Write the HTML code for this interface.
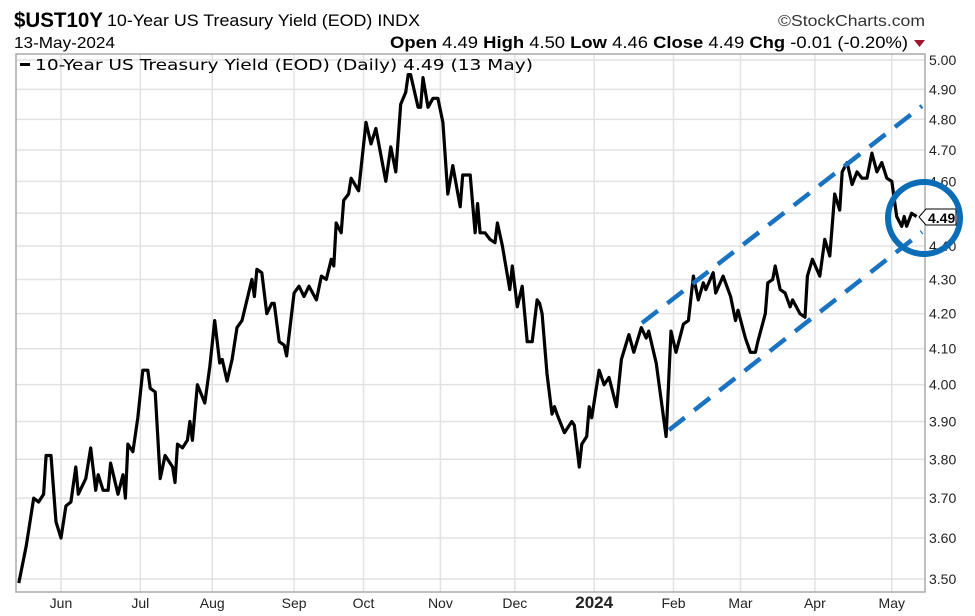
<!DOCTYPE html>
<html><head><meta charset="utf-8">
<style>
html,body{margin:0;padding:0;background:#fff;}
svg{display:block;}
text{font-family:"Liberation Sans Narrow","Liberation Sans",sans-serif;}
</style></head>
<body>
<svg id="chart" width="975" height="616" viewBox="0 0 975 616">
  <text x="14" y="27" font-size="21" font-weight="bold" textLength="89" lengthAdjust="spacingAndGlyphs">$UST10Y</text>
  <text x="107" y="26" font-size="17" textLength="313" lengthAdjust="spacingAndGlyphs">10-Year US Treasury Yield (EOD)  INDX</text>
  <text x="778" y="26" font-size="16" textLength="147" lengthAdjust="spacingAndGlyphs" fill="#333">©StockCharts.com</text>
  <text x="14" y="48" font-size="16" textLength="101" lengthAdjust="spacingAndGlyphs">13-May-2024</text>
  <text x="390" y="48" font-size="17" textLength="518" lengthAdjust="spacingAndGlyphs"><tspan font-weight="bold">Open</tspan> 4.49  <tspan font-weight="bold">High</tspan> 4.50  <tspan font-weight="bold">Low</tspan> 4.46  <tspan font-weight="bold">Close</tspan> 4.49  <tspan font-weight="bold">Chg</tspan> -0.01 (-0.20%)</text>
  <polygon points="914,40 925,40 919.5,47" fill="#a0142c"/>
  <g id="grid"></g>
  <rect x="16" y="54" width="909" height="538" fill="none" stroke="#aaa" stroke-width="1.5"/>
  <g id="yaxis"></g>
  <g id="xaxis"></g>
  <rect x="20" y="63" width="10" height="3" fill="#000"/>
  <text x="35" y="70" font-size="15" textLength="498" lengthAdjust="spacingAndGlyphs" style="font-family:'DejaVu Sans',sans-serif">10-Year US Treasury Yield (EOD) (Daily) 4.49 (13 May)</text>
  <path id="series" fill="none" stroke="#000" stroke-width="3.2" stroke-linejoin="round"/>
  <line x1="642" y1="323" x2="922" y2="106" stroke="#1a73c0" stroke-width="4.5" stroke-dasharray="20,12"/>
  <line x1="669" y1="430" x2="922" y2="232" stroke="#1a73c0" stroke-width="4.5" stroke-dasharray="20,12"/>
  <g>
    <polygon points="919,217 926,209 956,209 956,225 926,225" fill="#fff" stroke="#000" stroke-width="1"/>
    <text x="928" y="223" font-size="14" font-weight="bold">4.49</text>
  </g>
  <circle cx="924" cy="218" r="36" fill="none" stroke="#0a6db5" stroke-width="6"/>
</svg>
<script>
const days=[0,3,6,8,10,11,13,15,17,19,21,23,24,27,29,31,32,34,36,37,40,42,43,44,46,48,50,52,53,55,57,59,62,63,64,66,68,69,70,72,75,77,79,81,82,84,86,88,90,94,95,96,98,100,102,103,105,107,108,111,113,115,117,120,122,124,126,127,128,130,131,133,134,137,140,142,144,148,150,152,154,156,157,158,161,162,163,165,167,169,171,173,175,178,179,182,184,185,186,188,190,192,193,195,198,199,201,203,205,207,209,210,211,213,215,216,217,220,223,224,226,227,229,230,231,234,236,238,241,243,246,248,251,253,254,257,261,263,265,268,270,272,274,276,277,280,281,284,287,289,290,293,295,297,298,301,302,304,305,307,309,311,312,315,317,318,320,323,325,327,329,331,332,334,336,338,340,342,344,346,348,350,352,354,356,357,358,360,362];
const yields=[3.49,3.58,3.70,3.69,3.71,3.81,3.81,3.64,3.60,3.68,3.69,3.78,3.71,3.75,3.83,3.72,3.76,3.72,3.72,3.79,3.71,3.76,3.70,3.84,3.82,3.91,4.04,4.04,3.99,3.98,3.75,3.81,3.78,3.74,3.84,3.83,3.85,3.90,3.85,4.00,3.95,4.05,4.18,4.06,4.07,4.01,4.07,4.16,4.18,4.30,4.25,4.33,4.32,4.20,4.23,4.23,4.12,4.11,4.08,4.26,4.28,4.25,4.28,4.24,4.31,4.30,4.36,4.34,4.47,4.44,4.54,4.56,4.61,4.57,4.79,4.72,4.77,4.60,4.71,4.63,4.85,4.89,4.95,4.95,4.84,4.84,4.94,4.84,4.87,4.87,4.79,4.56,4.65,4.52,4.62,4.62,4.44,4.53,4.44,4.44,4.42,4.41,4.47,4.40,4.27,4.34,4.22,4.28,4.12,4.12,4.24,4.23,4.20,4.03,3.92,3.94,3.92,3.87,3.90,3.89,3.78,3.84,3.86,3.94,3.91,4.04,4.00,4.02,3.94,4.07,4.14,4.09,4.16,4.13,4.15,4.06,3.86,4.15,4.09,4.17,4.18,4.31,4.24,4.29,4.27,4.32,4.26,4.31,4.25,4.18,4.21,4.13,4.09,4.09,4.12,4.20,4.29,4.30,4.34,4.27,4.26,4.22,4.24,4.20,4.19,4.31,4.36,4.31,4.42,4.37,4.56,4.51,4.63,4.66,4.59,4.63,4.61,4.61,4.69,4.63,4.66,4.61,4.60,4.49,4.46,4.49,4.46,4.50,4.49];
const yTicks=[5.00,4.90,4.80,4.70,4.60,4.50,4.40,4.30,4.20,4.10,4.00,3.90,3.80,3.70,3.60,3.50];
const monthLabels=["Jun","Jul","Aug","Sep","Oct","Nov","Dec","2024","Feb","Mar","Apr","May"];
const monthDays=[17,49,78,111,139,170,200,232,264,291,321,352];

const NS="http://www.w3.org/2000/svg";
function xScale(d){return 18.8+d*2.48;}
function yScale(v){return 60+Math.log(5/v)*1455;}
function mk(tag,attrs,parent){const e=document.createElementNS(NS,tag);for(const k in attrs)e.setAttribute(k,attrs[k]);parent.appendChild(e);return e;}
const grid=document.getElementById('grid'),yax=document.getElementById('yaxis'),xax=document.getElementById('xaxis');
yTicks.forEach(t=>{
  const y=yScale(t);
  const l=mk('line',{x1:16,x2:925,y1:y,y2:y,stroke:'#e2e2e2','stroke-width':1.5},grid);
  
  
  const tx=mk('text',{x:929,y:y+5,'font-size':14,fill:'#222'},yax);
  tx.textContent=t.toFixed(2);
  
  
});
monthDays.forEach((d,i)=>{
  const x=xScale(d);
  const l=mk('line',{x1:x,x2:x,y1:54,y2:592,stroke:'#e2e2e2','stroke-width':1.5},grid);
  
  
  const bold=monthLabels[i]==="2024";
  const tx=mk('text',{x:x,y:608,'font-size':bold?17:14,'font-weight':bold?'bold':'normal','text-anchor':'middle',fill:'#222'},xax);
  tx.textContent=monthLabels[i];
  
  
});
let dstr='';
days.forEach((d,i)=>{dstr+=(i?'L':'M')+xScale(d).toFixed(1)+','+yScale(yields[i]).toFixed(1);});
document.getElementById('series').setAttribute('d',dstr);
</script>
</body></html>
